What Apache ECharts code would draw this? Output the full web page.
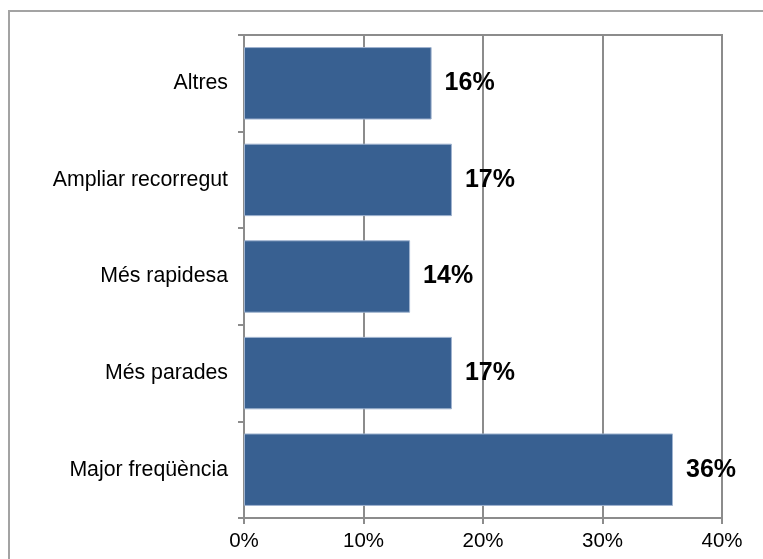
<!DOCTYPE html>
<html>
<head>
<meta charset="utf-8">
<script src="https://cdn.jsdelivr.net/npm/echarts@6/dist/echarts.min.js"></script>
<style>
html,body{margin:0;padding:0;background:#fff;}
#c{width:763px;height:559px;}
</style>
</head>
<body>
<div id="c"></div>
<script>
var categories = ['Major freqüència', 'Més parades', 'Més rapidesa', 'Ampliar recorregut', 'Altres'];
var values = [35.9, 17.4, 13.9, 17.4, 15.7];
var xTicks = [0, 10, 20, 30, 40];

var chart = echarts.init(document.getElementById('c'), null, {renderer: 'canvas'});
var font = '"Liberation Sans", Arial, sans-serif';
chart.setOption({
  animation: false,
  backgroundColor: '#fff',
  graphic: [{
    type: 'rect',
    shape: {x: 9, y: 11, width: 800, height: 600},
    style: {fill: 'none', stroke: '#a3a3a3', lineWidth: 2},
    silent: true
  }],
  grid: {left: 244, right: 41, top: 35, bottom: 41, show: true, borderColor: '#8c8c8c', borderWidth: 2, containLabel: false},
  xAxis: {
    type: 'value',
    min: xTicks[0],
    max: xTicks[xTicks.length - 1],
    interval: 10,
    axisLine: {show: true, lineStyle: {color: '#8c8c8c', width: 2}},
    axisTick: {show: true, length: 6, lineStyle: {color: '#8c8c8c', width: 2}},
    splitLine: {show: true, lineStyle: {color: '#8c8c8c', width: 2}},
    axisLabel: {formatter: '{value}%', color: '#000', fontFamily: font, fontSize: 20.5, margin: 13}
  },
  yAxis: {
    type: 'category',
    data: categories,
    axisLine: {show: true, lineStyle: {color: '#8c8c8c', width: 2}},
    axisTick: {show: true, length: 6, lineStyle: {color: '#8c8c8c', width: 2}},
    axisLabel: {color: '#000', fontFamily: font, fontSize: 21.3, margin: 16}
  },
  series: [{
    type: 'bar',
    data: values,
    barCategoryGap: '25%',
    itemStyle: {color: '#386091', borderColor: '#9fb3cf', borderWidth: 1},
    label: {
      show: true,
      position: 'right',
      distance: 13,
      color: '#000',
      fontFamily: font,
      fontWeight: 'bold',
      fontSize: 25,
      formatter: function (p) { return Math.round(p.value) + '%'; }
    }
  }]
});
</script>
</body>
</html>
